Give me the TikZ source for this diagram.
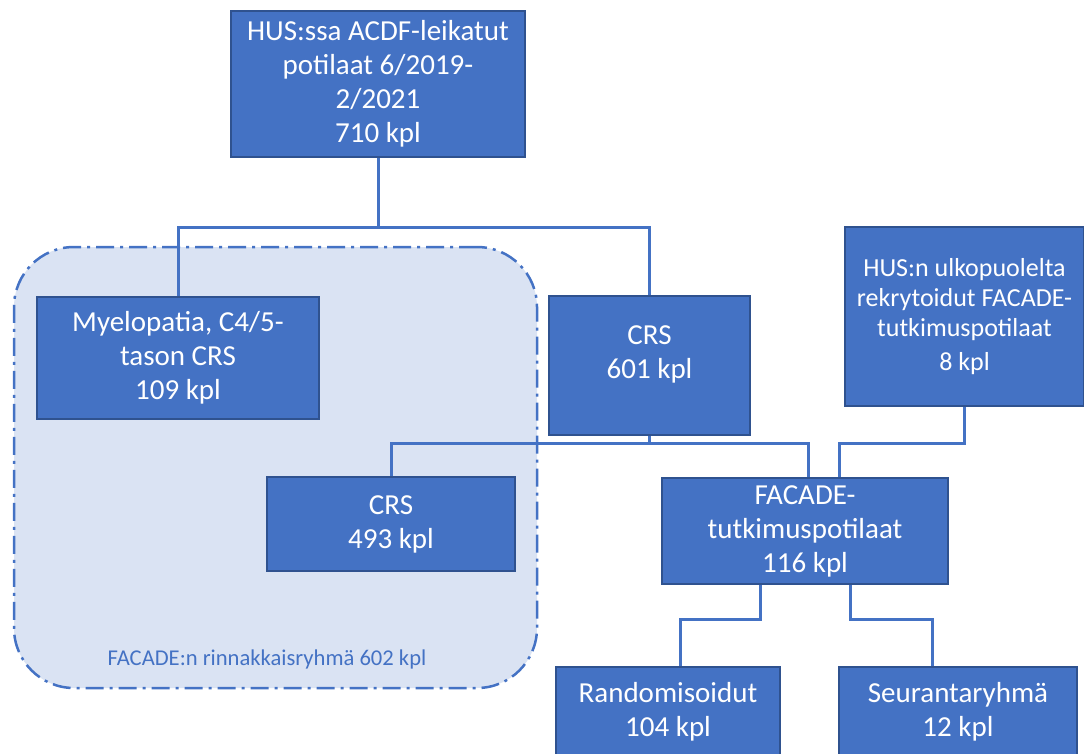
\documentclass[tikz,border=0pt]{standalone}
\usepackage{fontspec}
\setmainfont{Carlito}
\definecolor{boxblue}{HTML}{4472C4}
\definecolor{boxedge}{HTML}{2F528F}
\definecolor{groupfill}{HTML}{DAE3F3}
\newcommand{\bigtxt}{\fontsize{29}{34}\selectfont}
\newcommand{\midtxt}{\fontsize{26}{30}\selectfont}

\begin{document}
\begin{tikzpicture}[x=1pt,y=-1pt,
		box/.style={draw=boxedge,line width=1.5pt,fill=boxblue,text=white,align=center,inner sep=0pt,font=\bigtxt},
		link/.style={draw=boxblue,line width=3pt},
		group/.style={draw=boxblue,line width=2.5pt,fill=groupfill,rounded corners=60pt,dash pattern=on 18pt off 6pt on 3pt off 6pt}]
			\useasboundingbox (0,0) rectangle (1084,753);
			% rinnakkaisryhma
			\node[group,minimum width=523,minimum height=441] (group) at (275.5,467.5) {};
			\node[text=boxblue,font=\fontsize{22.6}{26}\selectfont] (grouplabel) at (267,659) {FACADE:n rinnakkaisryhmä 602 kpl};
			% laatikot
			\node[box,minimum width=294,minimum height=146] (top) at (378,84) {HUS:ssa ACDF-leikatut\\potilaat 6/2019-\\2/2021\\710 kpl};
			\node[box,minimum width=282,minimum height=122] (myel) at (178,358) {Myelopatia, C4/5-\\tason CRS\\109 kpl};
			\node[box,minimum width=201,minimum height=139] (crsa) at (649.5,365.5) {CRS\\601 kpl\\[-8pt]\mbox{}};
			\node[box,font=\midtxt,minimum width=239,minimum height=179] (ext) at (964.5,316.5) {HUS:n ulkopuolelta\\rekrytoidut FACADE-\\tutkimuspotilaat\\[4pt]8 kpl};
			\node[box,minimum width=248,minimum height=94] (crsb) at (391,524) {CRS\\493 kpl};
			\node[box,minimum width=286,minimum height=106] (facade) at (805,531) {FACADE-\\tutkimuspotilaat\\116 kpl};
			\node[box,minimum width=224,minimum height=90] (rand) at (668,712) {Randomisoidut\\104 kpl};
			\node[box,minimum width=238,minimum height=90] (seur) at (958,712) {Seurantaryhmä\\12 kpl};
			% yhteydet
			\coordinate (j1) at (378,227);
			\draw[link] (top.south) -- (j1) -| (myel.north);
			\draw[link] (j1) -| (crsa.north);
			\draw[link] (crsa.south) -- ++(0,8) coordinate (j2) -| (crsb.north);
			\draw[link] (j2) -| ([xshift=3pt]facade.north);
			\draw[link] (ext.south) -- (ext.south |- j2) -| ([xshift=34pt]facade.north);
			\draw[link] ([xshift=-45pt]facade.south) -- ++(0,35) -| ([xshift=12pt]rand.north);
			\draw[link] ([xshift=45pt]facade.south) -- ++(0,35) -| ([xshift=-26pt]seur.north);
		\end{tikzpicture}
\end{document}
